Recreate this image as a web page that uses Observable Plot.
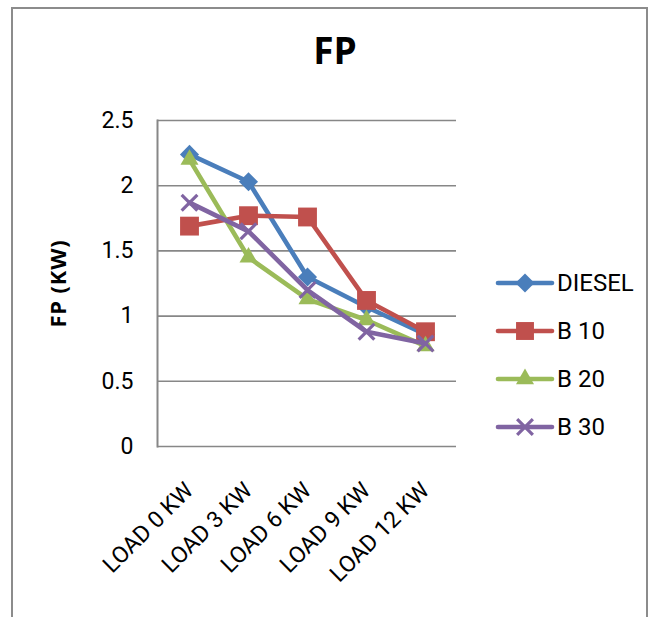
<!DOCTYPE html>
<html>
<head>
<meta charset="utf-8">
<script src="https://cdn.jsdelivr.net/npm/d3@7"></script>
<script src="https://cdn.jsdelivr.net/npm/@observablehq/plot@0.6"></script>
<style>
  html, body { margin: 0; padding: 0; background: #fff; }
  #wrap { position: relative; width: 659px; height: 617px; overflow: hidden; }
  #frame { position: absolute; left: 11px; top: 7px; width: 637px; height: 640px; border: 2px solid #8c8c8c; box-sizing: border-box; }
  #title { position: absolute; left: 0; width: 670px; top: 24px; text-align: center; font: bold 37px "Open Sans", sans-serif; color: #000; }
  #chart { position: absolute; left: 0; top: 0; }
  #legend { position: absolute; left: 495px; top: 259px; font: 24px Roboto, sans-serif; color: #000; }
  .row { display: flex; align-items: center; height: 48px; }
  .row svg { margin-right: 2px; }
</style>
</head>
<body>
<div id="wrap">
  <div id="frame"></div>
  <div id="chart"></div>
  <div id="title">FP</div>
  <div id="legend"></div>
</div>
<script>
// Load steps on the x axis
const categories = ["LOAD 0 KW", "LOAD 3 KW", "LOAD 6 KW", "LOAD 9 KW", "LOAD 12 KW"];
// Friction power (KW) per fuel blend
const diesel = [2.24, 2.03, 1.30, 1.07, 0.86];
const b10 = [1.69, 1.77, 1.76, 1.12, 0.88];
const b20 = [2.20, 1.45, 1.13, 0.97, 0.77];
const b30 = [1.87, 1.65, 1.20, 0.88, 0.79];
const seriesNames = ["DIESEL", "B 10", "B 20", "B 30"];
const yTicks = [0, 0.5, 1, 1.5, 2, 2.5];

const seriesValues = [diesel, b10, b20, b30];
const colors = ["#4a7ebb", "#c0504d", "#9bbb59", "#8064a2"];
const symbols = ["diamond2", "square2", "triangle2", "times"];
const radii = [8.6, 12, 8.6, 7.2];

const rows = seriesNames.flatMap((name, i) =>
  categories.map((c, j) => ({series: name, load: c, fp: seriesValues[i][j]}))
);

const marks = [
  Plot.gridY(yTicks, {stroke: "#878787", strokeOpacity: 1, strokeWidth: 1.6}),
  Plot.frame({anchor: "left", stroke: "#878787", strokeWidth: 2}),
  Plot.axisY(yTicks, {
    tickSize: 0, tickPadding: 24, fontSize: 23,
    fontFamily: "Roboto, sans-serif", fill: "#000",
    tickFormat: d => String(d), label: null
  }),
  Plot.axisX({
    tickSize: 0, tickPadding: 40, tickRotate: -45, fontSize: 23,
    fontFamily: "Roboto, sans-serif", fill: "#000", label: null
  }),
  Plot.text(["FP (KW)"], {
    frameAnchor: "left", textAnchor: "middle", dx: -99, rotate: -90, fontSize: 22,
    fontWeight: "bold", fontFamily: "Open Sans, sans-serif", fill: "#000"
  })
];

seriesNames.forEach((name, i) => {
  const d = rows.filter(r => r.series === name);
  marks.push(Plot.line(d, {x: "load", y: "fp", stroke: colors[i], strokeWidth: 4.6, strokeLinejoin: "round"}));
  if (symbols[i] === "times") {
    marks.push(Plot.dot(d, {x: "load", y: "fp", symbol: "times", r: radii[i], stroke: colors[i], strokeWidth: 3.2}));
  } else {
    marks.push(Plot.dot(d, {x: "load", y: "fp", symbol: symbols[i], r: radii[i], fill: colors[i], stroke: "none"}));
  }
});

const chart = Plot.plot({
  width: 659,
  height: 617,
  marginLeft: 157,
  marginRight: 203,
  marginTop: 120,
  marginBottom: 171,
  style: {background: "transparent", overflow: "visible"},
  x: {type: "point", domain: categories, padding: 0.5},
  y: {domain: [0, 2.5]},
  marks
});
chart.querySelectorAll("text").forEach(t => {
  if (t.textContent === "FP (KW)") t.setAttribute("letter-spacing", "0.8");
});
document.getElementById("chart").appendChild(chart);

// Legend: one row per fuel blend with a line and its marker
const legend = d3.select("#legend");
seriesNames.forEach((name, i) => {
  const row = legend.append("div").attr("class", "row");
  const svg = row.append("svg").attr("width", 60).attr("height", 24);
  svg.append("line").attr("x1", 3).attr("x2", 57).attr("y1", 12).attr("y2", 12)
    .attr("stroke", colors[i]).attr("stroke-width", 4.6).attr("stroke-linecap", "round");
  const symType = {diamond2: d3.symbolDiamond2, square2: d3.symbolSquare2, triangle2: d3.symbolTriangle2, times: d3.symbolTimes}[symbols[i]];
  const r = radii[i] * (symbols[i] === "square2" ? 0.95 : 1);
  const p = svg.append("path").attr("transform", "translate(30,12)")
    .attr("d", d3.symbol(symType, Math.PI * r * r)());
  if (symbols[i] === "times") p.attr("fill", "none").attr("stroke", colors[i]).attr("stroke-width", 3.2);
  else p.attr("fill", colors[i]);
  row.append("span").text(name);
});
</script>
</body>
</html>
